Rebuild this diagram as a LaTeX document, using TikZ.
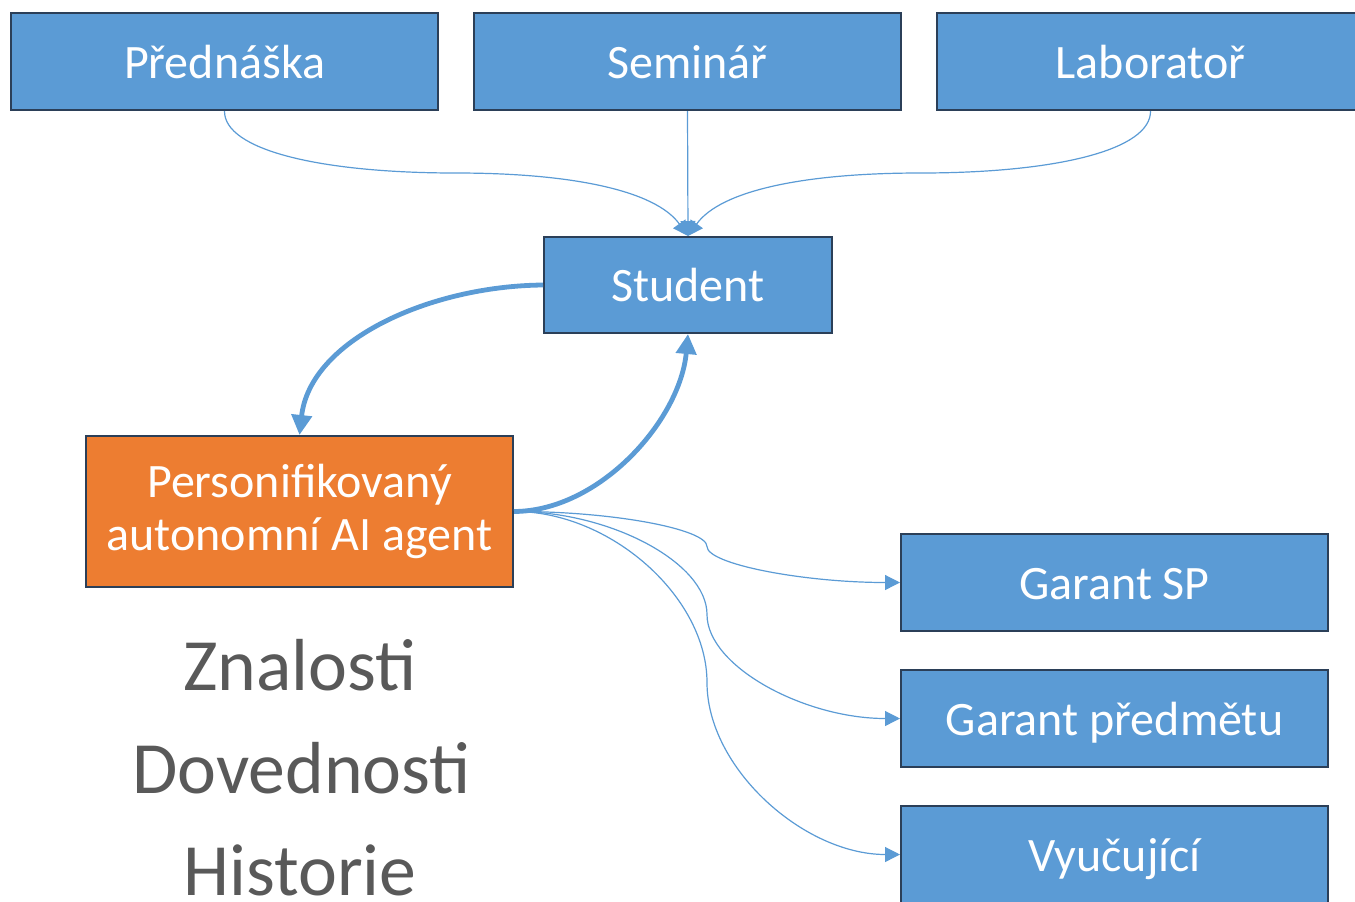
\documentclass[tikz,border=0pt]{standalone}
\usepackage{fontspec}
\setmainfont{Carlito}
\usetikzlibrary{arrows.meta}
\definecolor{boxblue}{HTML}{5B9BD5}
\definecolor{boxorange}{HTML}{ED7D31}
\definecolor{edgecol}{HTML}{2B3F58}
\definecolor{graytext}{HTML}{595959}
\begin{document}
\begin{tikzpicture}[x=0.75pt,y=-0.75pt,
  box/.style={draw=edgecol, line width=1.5pt, fill=boxblue, text=white,
    font=\fontsize{36}{43}\selectfont, inner sep=0pt,
    minimum width=320.25pt, minimum height=72.75pt,
    text height=31.75pt, text depth=7pt},
  studentbox/.style={box, minimum width=216pt, minimum height=72pt},
  agentbox/.style={draw=edgecol, line width=1.5pt, fill=boxorange, text=white,
    font=\fontsize{36}{40}\selectfont, inner sep=0pt, align=center,
    minimum width=320.25pt, minimum height=113.25pt},
  bigtext/.style={text=graytext, font=\fontsize{55.3}{60}\selectfont, inner sep=0pt, anchor=base},
  thinarrow/.style={draw=boxblue, line width=0.9pt, -{Triangle[length=11.25pt,width=11.25pt]}},
  thickarrow/.style={draw=boxblue, line width=3.6pt, -{Triangle[length=15pt,width=15pt]}},
]
\useasboundingbox (0,0) rectangle (1355,901);
\clip (0,0) rectangle (1355,901);

% top boxes
\node[box] (pred) at (224.5,61.5) {Přednáška};
\node[box] (sem) at (687.5,61.5) {Seminář};
\node[box] (lab) at (1150.5,61.5) {Laboratoř};

% student
\node[studentbox] (stud) at (688,285) {Student};

% agent
\node[agentbox] (agent) at (299.5,511.5) {Personifikovaný\\autonomní AI agent};

% right boxes
\node[box] (gsp) at (1114.5,582.5) {Garant SP};
\node[box] (gpr) at (1114.5,718.5) {Garant předmětu};
\node[box] (vyu) at (1114.5,854.5) {Vyučující};

% big texts
\node[bigtext] (zn) at (300,690) {Znalosti};
\node[bigtext] (dov) at (301.5,793) {Dovednosti};
\node[bigtext] (his) at (300,895) {Historie};

% top connectors
\draw[thinarrow] (pred.south) .. controls (224,150) and (320,173) .. (456,173)
  .. controls (570,173) and (655,190) .. (stud.north);
\draw[thinarrow] (sem.south) -- (stud.north);
\draw[thinarrow] (lab.south) .. controls (1151,150) and (1056,173) .. (920,173)
  .. controls (806,173) and (721,190) .. (stud.north);

% thick connectors
\draw[thickarrow] (stud.west) .. controls (430,286) and (310,340) .. (agent.north);
\draw[thickarrow] (agent.east) .. controls (600,511) and (680,420) .. (stud.south);

% right connectors
\draw[thinarrow] (agent.east) .. controls (610,511) and (707,528.75) .. (707,546.5)
  .. controls (707,564.25) and (804,582.5) .. (gsp.west);
\draw[thinarrow] (agent.east) .. controls (610,511) and (707,562.75) .. (707,614.5)
  .. controls (707,666.25) and (804,718.5) .. (gpr.west);
\draw[thinarrow] (agent.east) .. controls (610,511) and (707,596.75) .. (707,682.5)
  .. controls (707,768.25) and (804,854.5) .. (vyu.west);
\end{tikzpicture}
\end{document}
